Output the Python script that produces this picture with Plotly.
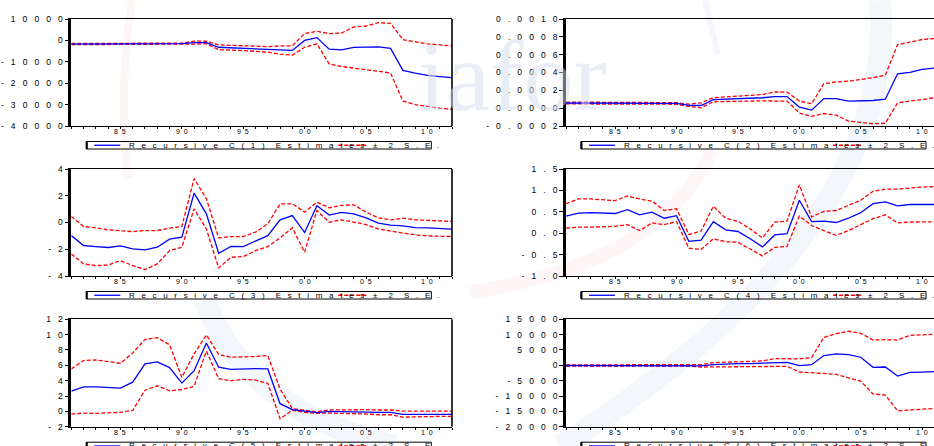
import plotly.graph_objects as go

# ---------------------------------------------------------------------------
# Recursive coefficient estimates with +/- 2 S.E. bands, annual 1981-2012
# ---------------------------------------------------------------------------
YEARS = list(range(1981, 2013))

c1_est = [-1700, -1700, -1700, -1700, -1700, -1650, -1650, -1600, -1600, -1500,
          -1000, -1000, -3200, -3400, -3600, -3900, -4200, -4500, -4700, 0,
          1300, -4100, -4400, -3300, -3000, -3000, -3700, -14000, -15300, -16300,
          -16900, -17400]
c1_up = [-1400, -1400, -1400, -1400, -1450, -1400, -1400, -1350, -1350, -1300,
         -300, -400, -2100, -2300, -2500, -2700, -2900, -2600, -2500, 3200,
         4200, 3200, 3400, 6300, 6700, 8300, 8000, 300, -600, -1600,
         -2100, -2600]
c1_lo = [-2000, -2000, -2000, -2000, -1950, -1900, -1900, -1850, -1850, -1700,
         -1700, -1600, -4300, -4500, -4700, -5100, -5500, -6400, -6900, -3200,
         -1600, -11000, -12200, -12900, -13500, -14400, -15300, -28300, -30000, -31000,
         -31700, -32200]

c2_est = [0.000058, 0.000058, 0.000057, 0.000057, 0.000056, 0.000055, 0.000055, 0.000054, 0.000054, 0.000053,
          0.000032, 0.000030, 0.000095, 0.000100, 0.000104, 0.000110, 0.000117, 0.000130, 0.000130, 0.000012,
          -0.000022, 0.000108, 0.000108, 0.000080, 0.000080, 0.000086, 0.000100, 0.000386, 0.000402, 0.000435,
          0.000450, 0.000455]
c2_up = [0.000068, 0.000068, 0.000067, 0.000066, 0.000065, 0.000064, 0.000064, 0.000063, 0.000063, 0.000062,
         0.000045, 0.000060, 0.000118, 0.000126, 0.000130, 0.000137, 0.000152, 0.000182, 0.000180, 0.000080,
         0.000050, 0.000275, 0.000295, 0.000302, 0.000320, 0.000342, 0.000370, 0.000712, 0.000740, 0.000770,
         0.000782, 0.000790]
c2_lo = [0.000048, 0.000048, 0.000047, 0.000047, 0.000046, 0.000046, 0.000045, 0.000045, 0.000044, 0.000044,
         0.000019, 0.000004, 0.000072, 0.000076, 0.000078, 0.000083, 0.000082, 0.000080, 0.000080, -0.000055,
         -0.000092, -0.000060, -0.000078, -0.000145, -0.000158, -0.000175, -0.000170, 0.000060, 0.000080, 0.000100,
         0.000116, 0.000120]

c3_est = [-0.98, -1.72, -1.80, -1.87, -1.75, -1.98, -2.05, -1.85, -1.25, -1.10,
          2.20, 0.65, -2.30, -1.78, -1.80, -1.38, -0.98, 0.20, 0.52, -0.75,
          1.25, 0.55, 0.75, 0.65, 0.35, -0.05, -0.20, -0.25, -0.38, -0.40,
          -0.45, -0.50]
c3_up = [0.45, -0.30, -0.40, -0.55, -0.62, -0.68, -0.60, -0.60, -0.42, -0.30,
         3.28, 1.78, -1.15, -1.05, -1.05, -0.72, -0.10, 1.40, 1.40, 0.78,
         1.52, 1.10, 1.28, 1.32, 0.78, 0.35, 0.20, 0.32, 0.20, 0.15,
         0.12, 0.08]
c3_lo = [-2.35, -3.10, -3.22, -3.18, -2.85, -3.22, -3.52, -3.10, -2.10, -1.85,
         1.02, -0.48, -3.40, -2.60, -2.55, -2.10, -1.80, -1.15, -0.40, -2.22,
         0.90, 0.02, 0.20, 0.02, -0.15, -0.48, -0.65, -0.80, -0.92, -1.00,
         -1.02, -1.05]

c4_est = [0.40, 0.47, 0.48, 0.47, 0.46, 0.55, 0.43, 0.49, 0.35, 0.41,
          -0.19, -0.16, 0.27, 0.08, 0.04, -0.13, -0.32, -0.04, -0.01, 0.77,
          0.27, 0.28, 0.25, 0.35, 0.48, 0.69, 0.73, 0.64, 0.67, 0.67,
          0.67, 0.67]
c4_up = [0.69, 0.80, 0.80, 0.78, 0.76, 0.87, 0.80, 0.75, 0.53, 0.57,
         -0.03, 0.05, 0.63, 0.35, 0.28, 0.10, -0.11, 0.26, 0.28, 1.13,
         0.38, 0.51, 0.53, 0.65, 0.77, 0.98, 1.03, 1.03, 1.06, 1.08,
         1.09, 1.09]
c4_lo = [0.12, 0.14, 0.14, 0.15, 0.16, 0.20, 0.06, 0.24, 0.20, 0.27,
         -0.35, -0.38, -0.13, -0.20, -0.21, -0.37, -0.53, -0.33, -0.31, 0.40,
         0.18, 0.06, -0.05, 0.06, 0.20, 0.34, 0.43, 0.24, 0.26, 0.26,
         0.27, 0.27]

c5_est = [2.63, 3.20, 3.20, 3.16, 3.03, 3.80, 6.18, 6.45, 5.70, 3.68,
          5.30, 8.90, 5.75, 5.48, 5.57, 5.57, 5.53, 1.00, 0.22, 0.05,
          -0.17, 0.00, 0.00, -0.05, -0.09, -0.13, -0.13, -0.40, -0.40, -0.40,
          -0.40, -0.40]
c5_up = [5.53, 6.62, 6.70, 6.53, 6.27, 7.59, 9.39, 9.60, 8.68, 4.43,
         7.50, 9.96, 7.41, 7.06, 7.06, 7.15, 7.28, 2.90, 0.35, 0.13,
         -0.04, 0.18, 0.22, 0.22, 0.22, 0.18, 0.18, 0.04, 0.04, 0.04,
         0.04, 0.04]
c5_lo = [-0.35, -0.22, -0.26, -0.22, -0.13, 0.13, 2.76, 3.33, 2.68, 2.85,
         3.25, 7.85, 4.25, 4.00, 4.17, 4.08, 3.64, -0.96, 0.13, -0.13,
         -0.26, -0.22, -0.26, -0.26, -0.35, -0.44, -0.44, -0.75, -0.70, -0.66,
         -0.66, -0.66]

c6_est = [-50, -50, -50, -50, -50, -50, -50, -50, -50, -50,
          -50, -150, 200, 440, 550, 550, 660, 990, 990, -110,
          220, 3190, 3740, 3520, 2640, -660, -550, -3520, -2310, -2200,
          -1980, -1950]
c6_up = [150, 150, 150, 150, 150, 150, 150, 150, 150, 150,
         150, 220, 880, 990, 1100, 1210, 1430, 2200, 2200, 2090,
         2530, 9120, 10330, 11100, 10440, 8240, 8350, 8240, 9780, 10000,
         10220, 10250]
c6_lo = [-250, -250, -250, -250, -250, -250, -250, -250, -250, -250,
         -250, -550, -550, -440, -330, -330, -330, -330, -330, -2200,
         -2310, -2640, -2970, -4180, -5170, -9340, -9670, -14840, -14500, -14290,
         -14070, -14000]

COEF_NAMES = ["C(1)", "C(2)", "C(3)", "C(4)", "C(5)", "C(6)"]
ESTIMATES = [c1_est, c2_est, c3_est, c4_est, c5_est, c6_est]
UPPER = [c1_up, c2_up, c3_up, c4_up, c5_up, c6_up]
LOWER = [c1_lo, c2_lo, c3_lo, c4_lo, c5_lo, c6_lo]

Y_TICKS = [
    [10000, 0, -10000, -20000, -30000, -40000],
    [0.0010, 0.0008, 0.0006, 0.0004, 0.0002, 0.0000, -0.0002],
    [4, 2, 0, -2, -4],
    [1.5, 1.0, 0.5, 0.0, -0.5, -1.0],
    [12, 10, 8, 6, 4, 2, 0, -2],
    [15000, 10000, 5000, 0, -5000, -10000, -15000, -20000],
]
Y_FORMATS = ["{:.0f}", "{:.4f}", "{:.0f}", "{:.1f}", "{:.0f}", "{:.0f}"]

X_LABEL_YEARS = [1985, 1990, 1995, 2000, 2005, 2010]

# ---------------------------------------------------------------------------
# Page geometry (pixels)
# ---------------------------------------------------------------------------
W, H = 934, 446
COL_LEFT = [71.3, 566.0]
LEFT_RIGHT_EDGE = 452.0
PX_PER_YEAR = (LEFT_RIGHT_EDGE - COL_LEFT[0]) / (YEARS[-1] - YEARS[0])
ROW_SPAN = [(19.0, 126.0), (169.0, 276.0), (319.3, 426.7)]

FONT = "Liberation Sans"
BLUE = "#0000FF"
RED = "#FF0000"
NB = "\u00a0"


def spaced(text, gap):
    return gap.join(text)


def px(x):
    return x / W


def py(y):
    return 1 - y / H


fig = go.Figure()
shapes = []
annotations = []

for i, name in enumerate(COEF_NAMES):
    row, col = divmod(i, 2)
    ax = "" if i == 0 else str(i + 1)
    xname, yname = "x" + ax, "y" + ax
    left = COL_LEFT[col]
    top, bottom = ROW_SPAN[row]
    right = LEFT_RIGHT_EDGE if col == 0 else W
    x_end = YEARS[0] + (right - left) / PX_PER_YEAR

    fig.add_trace(go.Scatter(x=YEARS, y=UPPER[i], mode="lines", xaxis=xname, yaxis=yname,
                             line=dict(color=RED, width=1.3, dash="4px,2px"), showlegend=False))
    fig.add_trace(go.Scatter(x=YEARS, y=LOWER[i], mode="lines", xaxis=xname, yaxis=yname,
                             line=dict(color=RED, width=1.3, dash="4px,2px"), showlegend=False))
    fig.add_trace(go.Scatter(x=YEARS, y=ESTIMATES[i], mode="lines", xaxis=xname, yaxis=yname,
                             line=dict(color=BLUE, width=1.3), showlegend=False))

    fig.layout["xaxis" + ax] = dict(
        domain=[px(left), px(right)], range=[YEARS[0], x_end], anchor=yname,
        tickmode="array", tickvals=YEARS, showticklabels=False,
        ticks="outside", ticklen=2, tickwidth=1, tickcolor="black",
        showline=True, mirror=True, linecolor="black", linewidth=1.3,
        showgrid=False, zeroline=False, automargin=False,
    )
    yticks = Y_TICKS[i]
    fig.layout["yaxis" + ax] = dict(
        domain=[py(bottom), py(top)], range=[min(yticks), max(yticks)], anchor=xname,
        tickmode="array", tickvals=yticks,
        ticktext=[spaced(Y_FORMATS[i].format(v).replace("-0.0000", "0.0000"), NB * 3) for v in yticks],
        ticks="outside", ticklen=4, tickwidth=1, tickcolor="black",
        showline=True, mirror=False, linecolor="black", linewidth=2.6,
        showgrid=False, zeroline=False, automargin=False,
        tickfont=dict(family=FONT, size=8.5, color="black"),
    )
    if col == 0:
        shapes.append(dict(type="line", xref="paper", yref="paper",
                           x0=px(right), x1=px(right), y0=py(bottom), y1=py(top),
                           line=dict(color="black", width=1.6)))

    # year labels just under the axis
    for yr in X_LABEL_YEARS:
        annotations.append(dict(xref=xname, yref="paper", x=yr, y=py(bottom + 5.5),
                                xanchor="center", yanchor="middle", showarrow=False,
                                text=spaced(str(yr)[2:], NB * 2),
                                font=dict(family=FONT, size=7, color="black")))

    # legend strip under each panel
    ly0, ly1 = bottom + 15.5, bottom + 23.0
    lyc = (ly0 + ly1) / 2
    shapes.append(dict(type="rect", xref="paper", yref="paper",
                       x0=px(left + 15), x1=px(left + 360), y0=py(ly1), y1=py(ly0),
                       line=dict(color="black", width=1)))
    shapes.append(dict(type="line", xref="paper", yref="paper",
                       x0=px(left + 15.5), x1=px(left + 15.5), y0=py(ly1), y1=py(ly0),
                       line=dict(color="black", width=2)))
    shapes.append(dict(type="line", xref="paper", yref="paper",
                       x0=px(left + 23), x1=px(left + 49), y0=py(lyc), y1=py(lyc),
                       line=dict(color=BLUE, width=1.3)))
    shapes.append(dict(type="line", xref="paper", yref="paper",
                       x0=px(left + 267), x1=px(left + 296), y0=py(lyc), y1=py(lyc),
                       line=dict(color=RED, width=1.3, dash="4px,2px")))
    words = ["Recursive", name, "Estimates"]
    legend_text = (NB * 5).join(spaced(w, NB * 3) for w in words)
    annotations.append(dict(xref="paper", yref="paper", x=px(left + 56), y=py(lyc),
                            xanchor="left", yanchor="middle", showarrow=False,
                            text=legend_text, font=dict(family=FONT, size=8, color="black")))
    annotations.append(dict(xref="paper", yref="paper", x=px(left + 300), y=py(lyc),
                            xanchor="left", yanchor="middle", showarrow=False,
                            text=(NB * 5).join(spaced(w, NB * 3) for w in ["\u00b1", "2", "S.E."]),
                            font=dict(family=FONT, size=8, color="black")))


# faint logo watermark behind the panels
def path_from(points):
    (x0, y0), (cx, cy), (x1, y1) = points
    return f"M {px(x0)},{py(y0)} Q {px(cx)},{py(cy)} {px(x1)},{py(y1)}"


WATERMARK_STROKES = [
    ([(132, 0), (118, 90), (128, 178)], "rgba(255,190,195,0.16)", 8),
    ([(712, 150), (660, 265), (470, 292)], "rgba(255,190,195,0.14)", 14),
    ([(880, 0), (900, 230), (560, 446)], "rgba(190,210,240,0.18)", 22),
    ([(205, 300), (245, 410), (395, 446)], "rgba(190,210,240,0.18)", 22),
    ([(705, 0), (712, 30), (718, 55)], "rgba(190,210,240,0.18)", 6),
]
for pts, color, width in WATERMARK_STROKES:
    shapes.append(dict(type="path", xref="paper", yref="paper", path=path_from(pts),
                       line=dict(color=color, width=width), layer="below"))

annotations.append(dict(xref="paper", yref="paper", x=px(512), y=py(76),
                        xanchor="center", yanchor="middle", showarrow=False,
                        text="iafor", opacity=0.5,
                        font=dict(family="Liberation Serif", size=100, color="#D5DFEE")))

fig.update_layout(
    width=W, height=H, autosize=False,
    margin=dict(l=0, r=0, t=0, b=0),
    paper_bgcolor="white", plot_bgcolor="rgba(0,0,0,0)",
    shapes=shapes, annotations=annotations,
    showlegend=False,
)

fig.write_html("out.html")
